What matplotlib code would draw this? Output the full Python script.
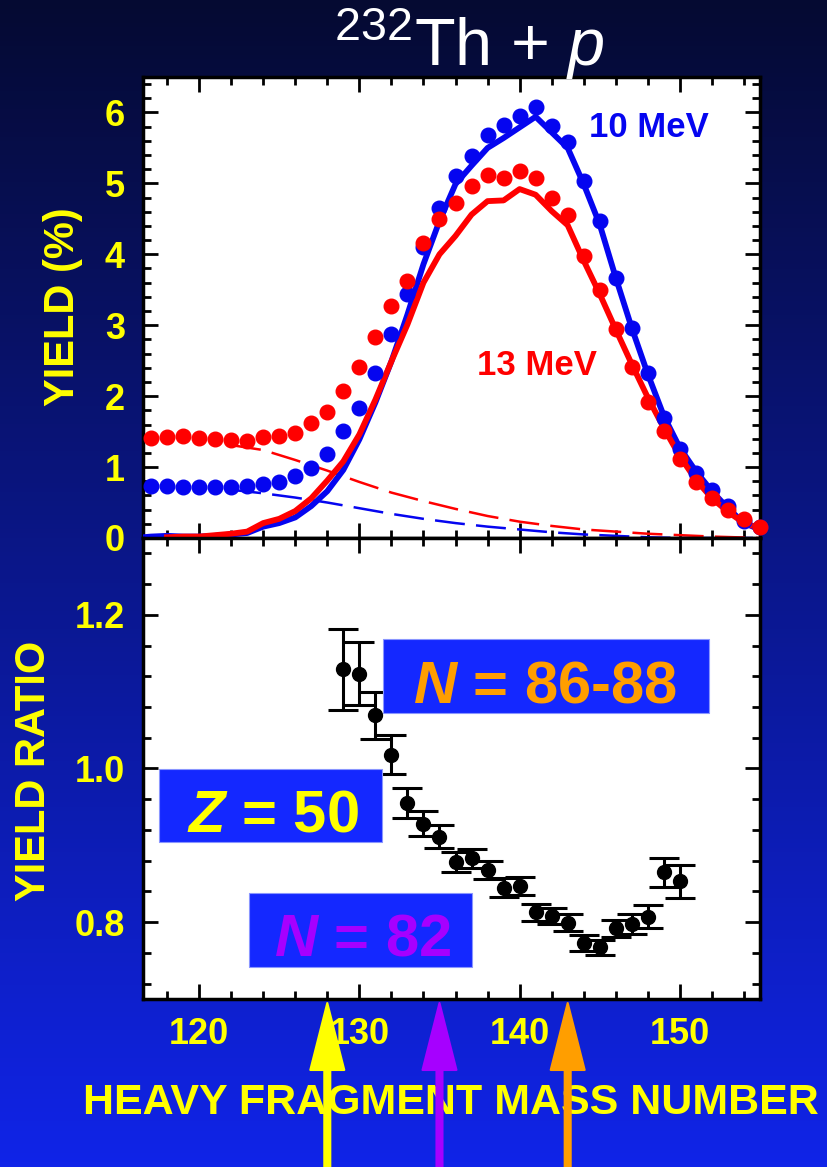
import numpy as np
import matplotlib
matplotlib.use('Agg')
import matplotlib.pyplot as plt
from matplotlib.patches import Rectangle, FancyArrow
from matplotlib.ticker import MultipleLocator
from matplotlib.transforms import IdentityTransform

plt.rcParams['font.family'] = ['Liberation Sans', 'DejaVu Sans']
plt.rcParams['mathtext.fontset'] = 'custom'
plt.rcParams['mathtext.rm'] = 'Liberation Sans'
plt.rcParams['mathtext.it'] = 'Liberation Sans:italic:bold'
plt.rcParams['mathtext.sf'] = 'Liberation Sans:italic'

# ---- data: top panel, yield (%) vs heavy fragment mass ----
mass_pts = list(range(117, 156))
yield10_pts = [0.73, 0.74, 0.72, 0.715, 0.72, 0.715, 0.74, 0.76, 0.79, 0.87,
               0.98, 1.19, 1.51, 1.83, 2.33, 2.87, 3.44, 4.10, 4.66, 5.11,
               5.39, 5.68, 5.83, 5.95, 6.08, 5.81, 5.59, 5.04, 4.47, 3.66,
               2.96, 2.33, 1.69, 1.26, 0.92, 0.68, 0.45, 0.24, 0.15]
yield13_pts = [1.41, 1.42, 1.44, 1.41, 1.40, 1.38, 1.37, 1.43, 1.44, 1.48,
               1.62, 1.78, 2.07, 2.41, 2.84, 3.27, 3.63, 4.16, 4.50, 4.72,
               4.96, 5.12, 5.08, 5.18, 5.07, 4.80, 4.56, 3.97, 3.49, 2.95,
               2.41, 1.92, 1.51, 1.11, 0.79, 0.56, 0.40, 0.27, 0.16]

mass_calc10 = list(range(116, 156))
yield10_calc = [0.0, 0.02, 0.03, 0.02, 0.02, 0.03, 0.05, 0.07, 0.16, 0.21,
                0.29, 0.45, 0.66, 0.96, 1.39, 1.91, 2.49, 3.15, 3.86, 4.47,
                4.99, 5.25, 5.50, 5.64, 5.79, 5.94, 5.72, 5.50, 4.99, 4.42,
                3.67, 2.96, 2.31, 1.72, 1.27, 0.94, 0.66, 0.42, 0.21, 0.12]
mass_calc13 = list(range(118, 156))
yield13_calc = [0.01, 0.02, 0.02, 0.04, 0.06, 0.09, 0.21, 0.27, 0.38, 0.56,
                0.81, 1.08, 1.46, 1.95, 2.49, 3.01, 3.60, 4.00, 4.26, 4.56,
                4.75, 4.76, 4.92, 4.84, 4.61, 4.41, 3.91, 3.44, 2.94, 2.45,
                1.98, 1.55, 1.15, 0.82, 0.56, 0.37, 0.21, 0.14]

# symmetric (light-fragment) component, dashed
mass_sym = [122, 124, 126, 128, 130, 132, 134, 136, 138, 140, 142, 144, 146, 148, 150, 152, 155]
sym13 = [1.31, 1.24, 1.10, 0.95, 0.79, 0.64, 0.52, 0.41, 0.31, 0.23, 0.17, 0.12, 0.09, 0.06, 0.04, 0.02, 0.0]
sym10 = [0.68, 0.63, 0.57, 0.50, 0.42, 0.34, 0.27, 0.21, 0.16, 0.12, 0.08, 0.05, 0.03, 0.01, 0.0, 0.0, 0.0]

# ---- data: bottom panel, yield ratio ----
mass_ratio = list(range(129, 151))
ratio = [1.129, 1.123, 1.069, 1.018, 0.955, 0.928, 0.911, 0.878, 0.883, 0.868, 0.845,
         0.847, 0.813, 0.808, 0.799, 0.773, 0.767, 0.792, 0.797, 0.807, 0.865, 0.853]
ratio_err = [0.053, 0.041, 0.031, 0.025, 0.020, 0.016, 0.015, 0.013, 0.012, 0.012, 0.012,
             0.012, 0.011, 0.011, 0.011, 0.010, 0.010, 0.011, 0.013, 0.015, 0.019, 0.022]

# shell closures marked by arrows
arrow_mass = [128, 135, 143]
arrow_colors = ['#ffff00', '#a600ff', '#ff9e00']

BLUE = '#0505f0'
RED = '#ff0000'
YEL = '#ffff00'
BOX = '#1428ff'

fig = plt.figure(figsize=(8.27, 11.67), dpi=100)

# background gradient
bg = fig.add_axes([0, 0, 1, 1], zorder=-10)
top_c = np.array([5, 10, 50]) / 255.
bot_c = np.array([16, 36, 232]) / 255.
t = np.linspace(0, 1, 256)[:, None]
grad = (top_c[None, :] * (1 - t) + bot_c[None, :] * t)[:, None, :]
bg.imshow(grad, aspect='auto', extent=[0, 1, 0, 1])
bg.axis('off')

ax1 = fig.add_axes([0.1729, 0.5390, 0.7461, 0.3950])
ax2 = fig.add_axes([0.1729, 0.1440, 0.7461, 0.3950])

for ax in (ax1, ax2):
    ax.set_facecolor('white')
    ax.set_xlim(116.5, 155)
    ax.xaxis.set_major_locator(MultipleLocator(10))
    ax.xaxis.set_minor_locator(MultipleLocator(2))
    ax.tick_params(which='both', direction='in', top=True, right=True,
                   colors='black', labelcolor=YEL, labelsize=26, pad=13)
    ax.tick_params(which='major', length=11, width=2)
    ax.tick_params(which='minor', length=5.5, width=2)
    for s in ax.spines.values():
        s.set_linewidth(2.5)

# top panel
ax1.set_ylim(0, 6.5)
ax1.yaxis.set_major_locator(MultipleLocator(1))
ax1.yaxis.set_minor_locator(MultipleLocator(0.2))
ax1.tick_params(labelbottom=False)
ax1.plot(mass_sym, sym10, color=BLUE, lw=1.8, ls=(0, (12, 4.5)), zorder=2)
ax1.plot(mass_sym, sym13, color=RED, lw=1.8, ls=(0, (12, 4.5)), zorder=2)
ax1.plot(mass_calc10, yield10_calc, color=BLUE, lw=4.2, zorder=3)
ax1.plot(mass_calc13, yield13_calc, color=RED, lw=4.2, zorder=3)
ax1.plot(mass_pts, yield10_pts, 'o', color=BLUE, ms=10.5, zorder=4, clip_on=False)
ax1.plot(mass_pts, yield13_pts, 'o', color=RED, ms=10.5, zorder=5, clip_on=False)
ax1.text(148.05, 5.65, '10 MeV', color=BLUE, fontsize=25, fontweight='bold',
         ha='center', va='baseline')
ax1.text(141.1, 2.30, '13 MeV', color=RED, fontsize=25, fontweight='bold',
         ha='center', va='baseline')

# bottom panel
ax2.set_ylim(0.7, 1.3)
ax2.yaxis.set_major_locator(MultipleLocator(0.2))
ax2.yaxis.set_minor_locator(MultipleLocator(0.04))
ax2.yaxis.set_major_formatter(matplotlib.ticker.FormatStrFormatter('%.1f'))
ax2.errorbar(mass_ratio, ratio, yerr=ratio_err, fmt='o', color='black', ms=10,
             elinewidth=2.2, capsize=11, capthick=2.2, zorder=3)

for ax in (ax1, ax2):
    for lab in ax.get_xticklabels() + ax.get_yticklabels():
        lab.set_fontweight('bold')

# labelled boxes
boxes = [((131.5, 1.072), 20.3, 0.097, 141.6, '$N$ = 86-88', '#ff9e00'),
         ((117.5, 0.904), 13.9, 0.095, 124.6, '$Z$ = 50', YEL),
         ((123.1, 0.742), 13.9, 0.096, 130.2, '$N$ = 82', '#a600ff')]
for (x0, y0), w, h, xt, txt, col in boxes:
    ax2.add_patch(Rectangle((x0, y0), w, h, facecolor=BOX, edgecolor='#8a96ff',
                            lw=0.8, zorder=6))
    ax2.text(xt, y0 + 0.0145, txt, color=col, fontsize=43, fontweight='bold',
             ha='center', va='baseline', zorder=7)

# axis labels and title
fig.text(63 / 827, 1 - 307 / 1167, 'YIELD (%)', rotation=90, color=YEL,
         fontsize=30, fontweight='bold', ha='center', va='center')
fig.text(34 / 827, 1 - 771 / 1167, 'YIELD RATIO', rotation=90, color=YEL,
         fontsize=30, fontweight='bold', ha='center', va='center')
fig.text(451 / 827, 1 - 1114 / 1167, 'HEAVY FRAGMENT MASS NUMBER', color=YEL,
         fontsize=31, fontweight='bold', ha='center', va='baseline')
fig.text(469 / 827, 1 - 66 / 1167, r'$^{\mathrm{232}}$Th + $\mathsf{p}$', color='white',
         fontsize=48, ha='center', va='baseline')

# arrows below the axis (pixel coordinates)
H = 1167
for m, col in zip(arrow_mass, arrow_colors):
    xpix = ax2.transData.transform((m, 1.0))[0]
    arr = FancyArrow(xpix, -5, 0, (H - 1003) + 5, width=6, head_width=34,
                     head_length=67, length_includes_head=True,
                     facecolor=col, edgecolor=col, lw=1.5, joinstyle='round',
                     transform=IdentityTransform(), zorder=20)
    fig.add_artist(arr)

fig.savefig('out.png', dpi=100)
